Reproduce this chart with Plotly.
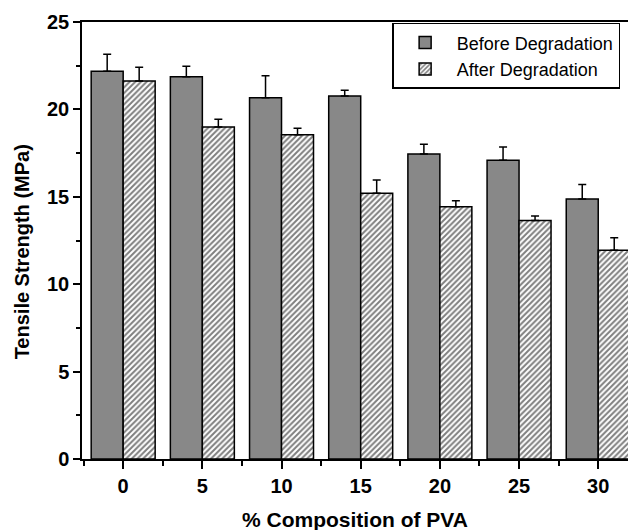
import plotly.graph_objects as go

categories = ["0", "5", "10", "15", "20", "25", "30"]
before_vals = [22.18, 21.87, 20.67, 20.77, 17.45, 17.09, 14.87]
before_err = [0.97, 0.60, 1.26, 0.33, 0.55, 0.76, 0.83]
after_vals = [21.62, 18.99, 18.55, 15.20, 14.43, 13.65, 11.94]
after_err = [0.79, 0.44, 0.37, 0.76, 0.34, 0.25, 0.72]

xpos = list(range(len(categories)))
FONT = "Liberation Sans, Arial, sans-serif"

fig = go.Figure()
fig.add_trace(go.Bar(
    x=xpos, y=before_vals, name="Before Degradation",
    marker=dict(color="#888888", line=dict(color="black", width=1.5)),
    error_y=dict(type="data", symmetric=False, array=before_err,
                 arrayminus=[0] * len(before_err),
                 color="black", thickness=1.5, width=4),
))
fig.add_trace(go.Bar(
    x=xpos, y=after_vals, name="After Degradation",
    marker=dict(color="white", line=dict(color="black", width=1.5),
                pattern=dict(shape="/", size=4, solidity=0.5,
                             fgcolor="black", bgcolor="white")),
    error_y=dict(type="data", symmetric=False, array=after_err,
                 arrayminus=[0] * len(after_err),
                 color="black", thickness=1.5, width=4),
))

fig.update_layout(
    width=628, height=530,
    margin=dict(l=82, r=0, t=22, b=71),
    paper_bgcolor="white", plot_bgcolor="white",
    barmode="group", bargap=0.192, bargroupgap=0,
    font=dict(family=FONT, color="black"),
    showlegend=True,
    legend=dict(x=0.568, y=0.998, xanchor="left", yanchor="top",
                bgcolor="white", bordercolor="black", borderwidth=1.5,
                font=dict(size=18, family=FONT),
                tracegroupgap=0, itemwidth=53),
    xaxis=dict(
        range=[-0.52, 6.376], tickvals=xpos, ticktext=categories,
        showline=True, linecolor="black", linewidth=1.5, mirror=True,
        ticks="outside", ticklen=8, tickwidth=1.5, tickcolor="black",
        tickfont=dict(size=20, family=FONT, weight="bold"),
        showgrid=False, zeroline=False,
        minor=dict(tick0=0.5, dtick=1, ticks="outside", ticklen=5,
                   tickwidth=1.5, tickcolor="black", showgrid=False),
    ),
    yaxis=dict(
        range=[0, 25], dtick=5, tick0=0,
        showline=True, linecolor="black", linewidth=1.5,
        ticks="outside", ticklen=7, tickwidth=1.5, tickcolor="black",
        tickfont=dict(size=20, family=FONT, weight="bold"),
        showgrid=False, zeroline=False,
        minor=dict(dtick=2.5, ticks="outside", ticklen=4,
                   tickwidth=1.5, tickcolor="black", showgrid=False),
    ),
    annotations=[
        dict(text="% Composition of PVA", xref="paper", yref="paper",
             x=0.5, y=-0.139, xanchor="center", yanchor="middle",
             showarrow=False, font=dict(size=21, family=FONT, weight="bold")),
        dict(text="Tensile Strength (MPa)", xref="paper", yref="paper",
             x=-0.11, y=0.475, xanchor="center", yanchor="middle",
             textangle=-90, showarrow=False,
             font=dict(size=20, family=FONT, weight="bold")),
    ],
)

fig.write_html("out.html")
